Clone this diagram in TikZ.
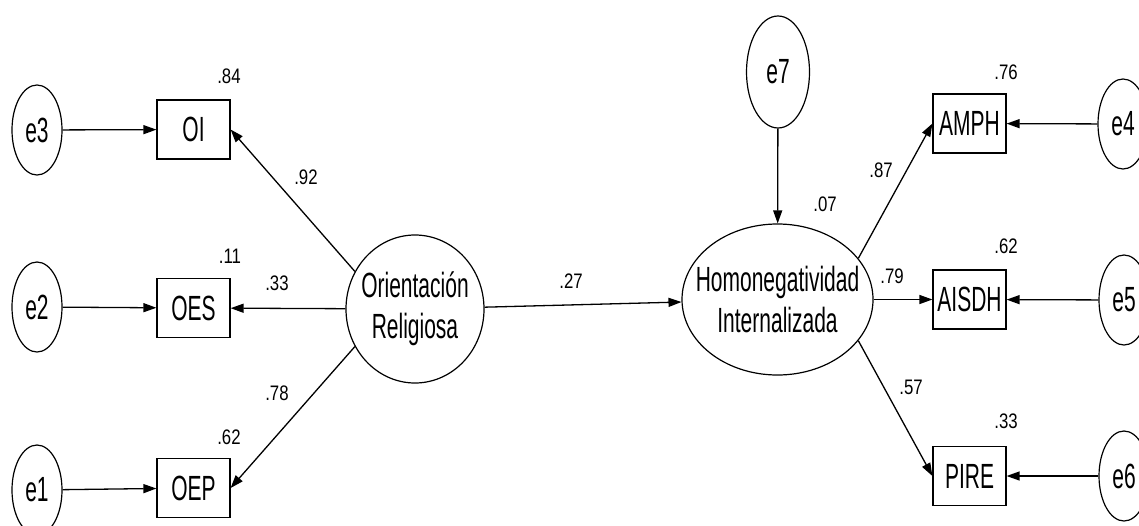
\documentclass[tikz,border=0pt]{standalone}
\usepackage{fontspec}
\setmainfont{Liberation Sans}[FakeStretch=0.6]
\newfontfamily\coeffont{Liberation Sans}[FakeStretch=0.8]
\usetikzlibrary{shapes.geometric,arrows.meta}
\begin{document}
\begin{tikzpicture}[x=1pt,y=-1pt,>={Triangle[length=13pt,width=9pt]},
    latent/.style={draw,ellipse,line width=1.2pt,inner sep=0pt},
    err/.style={latent,minimum width=50pt,minimum height=90pt,font=\fontsize{35}{40}\selectfont},
    obs/.style={draw,rectangle,line width=1.2pt,minimum width=73pt,minimum height=59pt,inner sep=0pt,font=\fontsize{35}{40}\selectfont},
    varlabel/.style={align=center,inner sep=0pt,font=\fontsize{35}{41}\selectfont},
    coef/.style={inner sep=0pt,font=\coeffont\fontsize{21}{24}\selectfont},
    link/.style={->,line width=1.3pt}]
    \useasboundingbox (0,0) rectangle (1139,525);
    % observed variables and their errors
    \foreach \n/\x/\y in {OI/193.5/129.5, OES/193.5/308, OEP/193.5/488, AMPH/969.5/123.5, AISDH/969.5/299.5, PIRE/969.5/476}
    \node[obs] (\n) at (\x,\y) {\n};
    \foreach \n/\x/\y in {e3/37/130, e2/37/307, e1/37/490, e4/1123/124, e5/1124/300, e6/1124/476}
    \node[err] (\n) at (\x,\y) {\n};
    \node[err,minimum width=63pt,minimum height=112pt] (e7) at (778,72) {e7};
    % latent variables
    \node[latent,minimum width=138pt,minimum height=148pt] (OR) at (415,309) {};
    \node[varlabel] (ORtext) at (OR) {Orientación\\Religiosa};
    \node[latent,minimum width=191pt,minimum height=151pt] (HI) at (777.5,299.5) {};
    \node[varlabel] (HItext) at (HI) {Homonegatividad\\Internalizada};
    % coefficients
    \foreach \v/\x/\y [count=\i] in {.84/229/76, .11/230/256, .62/229/437, .92/306/177, .33/277/283, .78/277/393, .27/571/281, .07/825/204, .76/1006/72, .62/1006/246, .33/1006/421, .87/881/170, .79/892/276, .57/911/387}
    \node[coef] (c\i) at (\x,\y) {\v};
    % paths
    \draw[link] (e3) -- (OI);
    \draw[link] (e2) -- (OES);
    \draw[link] (e1) -- (OEP);
    \draw[link] (OR.148) -- (OI.east);
    \draw[link] (OR) -- (OES);
    \draw[link] (OR.212) -- (OEP.east);
    \draw[link] (OR) -- (HI);
    \draw[link] (e7) -- (HI);
    \draw[link] (HI.27) -- (AMPH.west);
    \draw[link] (HI) -- (AISDH);
    \draw[link] (HI.-27) -- (PIRE.west);
    \draw[link] (e4) -- (AMPH);
    \draw[link] (e5) -- (AISDH);
    \draw[link] (e6) -- (PIRE);
\end{tikzpicture}
\end{document}
